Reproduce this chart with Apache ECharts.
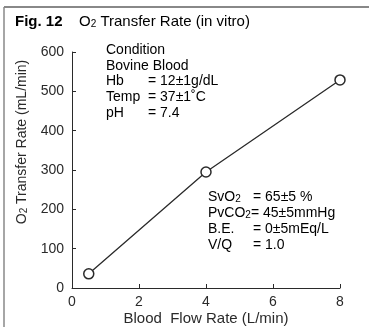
<!DOCTYPE html>
<html>
<head>
<meta charset="utf-8">
<script src="https://cdn.jsdelivr.net/npm/echarts@6/dist/echarts.min.js"></script>
<style>
  html, body { margin: 0; padding: 0; background: #fff; }
  #chart { width: 369px; height: 327px; }
</style>
</head>
<body>
<div id="chart"></div>
<script>
// data
const flowRate = [0.5, 4, 8];
const transferRate = [36, 295, 529];
const xTicks = [0, 2, 4, 6, 8];
const yTicks = [0, 100, 200, 300, 400, 500, 600];

// condition notes (label / value)
const condTop = [
  ['{n|Condition}', ''],
  ['{n|Bovine Blood}', ''],
  ['{n|Hb}', '{n|= 12±1g/dL}'],
  ['{n|Temp}', '{n|= 37±1˚C}'],
  ['{n|pH}', '{n|= 7.4}']
];
const condBottom = [
  ['{n|SvO}{s|2}', '{n|= 65±5 %}'],
  ['{n|PvCO}{s|2}{n|= 45±5mmHg}', ''],
  ['{n|B.E.}', '{n|= 0±5mEq/L}'],
  ['{n|V/Q}', '{n|= 1.0}']
];

const FONT = 'Liberation Sans, Arial, sans-serif';
const INK = '#2a2a2a';
const rich = {
  n: { fontSize: 14, fontFamily: FONT, color: INK },
  s: { fontSize: 10, fontFamily: FONT, color: INK, verticalAlign: 'bottom', padding: [4, 0, 0, 0] },
  t: { fontSize: 15, fontFamily: FONT, color: INK },
  ts: { fontSize: 10, fontFamily: FONT, color: INK, verticalAlign: 'bottom', padding: [5, 0, 0, 0] },
  b: { fontSize: 15, fontFamily: FONT, color: INK, fontWeight: 'bold' }
};

function noteLines(rows, x1, x2, y0, step) {
  const out = [];
  rows.forEach((r, i) => {
    out.push({ type: 'text', left: x1, top: y0 + i * step, style: { text: r[0], rich: rich } });
    if (r[1]) out.push({ type: 'text', left: x2, top: y0 + i * step, style: { text: r[1], rich: rich } });
  });
  return out;
}

const chart = echarts.init(document.getElementById('chart'));

const option = {
  animation: false,
  backgroundColor: '#fff',
  grid: { left: 72, right: 29, top: 52, bottom: 39, containLabel: false, outerBoundsMode: 'none' },
  xAxis: {
    type: 'value',
    min: xTicks[0],
    max: xTicks[xTicks.length - 1],
    interval: 2,
    name: 'Blood  Flow Rate (L/min)',
    nameLocation: 'middle',
    nameGap: 23,
    nameMoveOverlap: false,
    nameTextStyle: { fontSize: 15, fontFamily: FONT, color: INK },
    axisLine: { lineStyle: { color: INK, width: 1 } },
    axisTick: { inside: true, length: 4, lineStyle: { color: INK } },
    axisLabel: { fontSize: 14, fontFamily: FONT, color: INK, margin: 7 },
    splitLine: { show: false }
  },
  yAxis: {
    type: 'value',
    min: yTicks[0],
    max: yTicks[yTicks.length - 1],
    interval: 100,
    name: '{n|O}{s|2}{n| Transfer Rate (mL/min)}',
    nameLocation: 'middle',
    nameGap: 43,
    nameMoveOverlap: false,
    nameTextStyle: { rich: rich, padding: [0, 0, 0, 56] },
    axisLine: { show: true, lineStyle: { color: INK, width: 1 } },
    axisTick: { show: true, inside: true, length: 4, lineStyle: { color: INK } },
    axisLabel: { fontSize: 14, fontFamily: FONT, color: INK, margin: 8 },
    splitLine: { show: false }
  },
  series: [{
    type: 'line',
    data: flowRate.map((x, i) => [x, transferRate[i]]),
    symbol: 'circle',
    symbolSize: 10,
    showSymbol: true,
    lineStyle: { color: INK, width: 1.3 },
    itemStyle: { color: '#fff', borderColor: INK, borderWidth: 1.5 },
    z: 3
  }],
  graphic: [
    { type: 'line', shape: { x1: 4, y1: 7, x2: 369, y2: 7 }, style: { stroke: '#888', lineWidth: 2 } },
    { type: 'line', shape: { x1: 4, y1: 7, x2: 4, y2: 327 }, style: { stroke: '#888', lineWidth: 1.5 } },
    { type: 'text', left: 15, top: 14, style: { text: '{b|Fig. 12}', rich: rich } },
    { type: 'text', left: 79, top: 14, style: { text: '{t|O}{ts|2}{t| Transfer Rate (in vitro)}', rich: rich } }
  ]
    .concat(noteLines(condTop, 106, 148, 43, 15.7))
    .concat(noteLines(condBottom, 208, 253, 190, 16))
};

chart.setOption(option);
</script>
</body>
</html>
